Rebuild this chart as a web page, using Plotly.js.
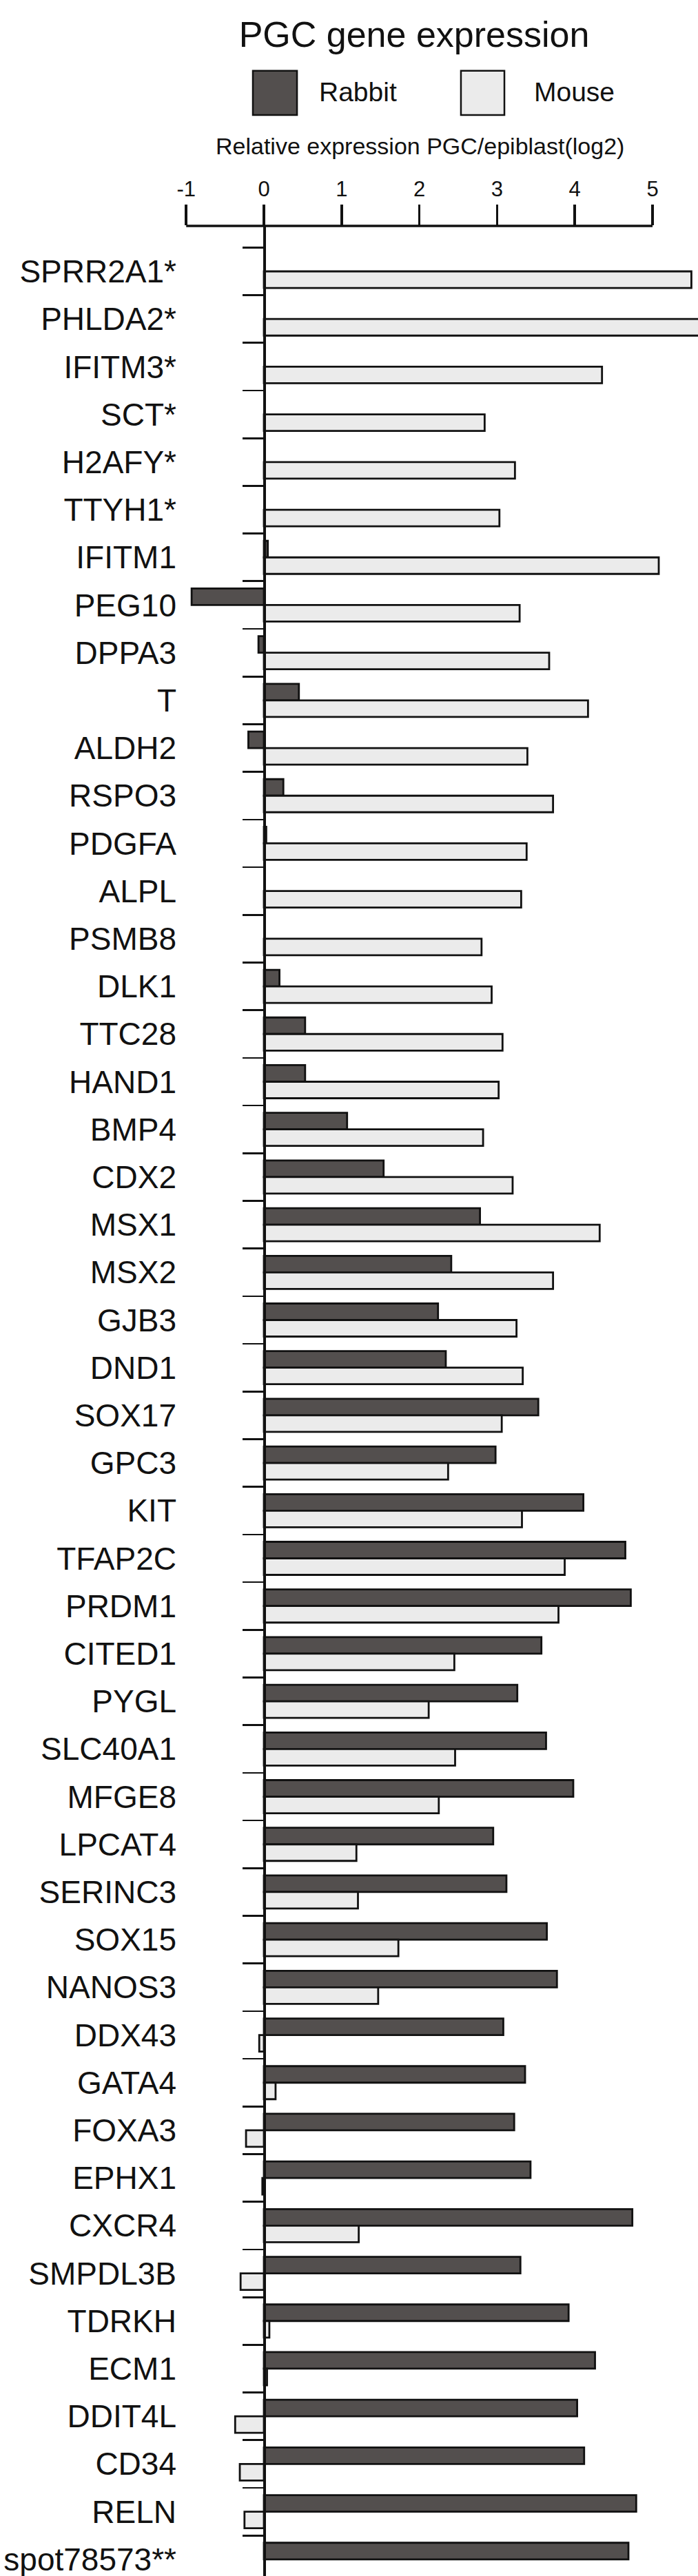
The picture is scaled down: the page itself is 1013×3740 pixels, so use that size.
<!DOCTYPE html>
<html>
<head>
<meta charset="utf-8">
<script src="https://cdn.plot.ly/plotly-3.0.1.min.js"></script>
<style>
  body { margin: 0; background: #fff; }
  #plot-1 { width: 1013px; height: 3740px; }
</style>
</head>
<body>
<div id="plot-1"></div>
<script>
// gene list, top to bottom
var genes = ['SPRR2A1*', 'PHLDA2*', 'IFITM3*', 'SCT*', 'H2AFY*', 'TTYH1*', 'IFITM1', 'PEG10',
  'DPPA3', 'T', 'ALDH2', 'RSPO3', 'PDGFA', 'ALPL', 'PSMB8', 'DLK1', 'TTC28', 'HAND1', 'BMP4',
  'CDX2', 'MSX1', 'MSX2', 'GJB3', 'DND1', 'SOX17', 'GPC3', 'KIT', 'TFAP2C', 'PRDM1', 'CITED1',
  'PYGL', 'SLC40A1', 'MFGE8', 'LPCAT4', 'SERINC3', 'SOX15', 'NANOS3', 'DDX43', 'GATA4', 'FOXA3',
  'EPHX1', 'CXCR4', 'SMPDL3B', 'TDRKH', 'ECM1', 'DDIT4L', 'CD34', 'RELN', 'spot78573**'];

// log2 PGC/epiblast
var rabbit = [null, null, null, null, null, null, 0.05, -0.93,
  -0.07, 0.45, -0.20, 0.25, 0.03, null, null, 0.20, 0.53, 0.53, 1.07,
  1.54, 2.78, 2.41, 2.24, 2.34, 3.53, 2.98, 4.11, 4.65, 4.72, 3.57,
  3.26, 3.63, 3.98, 2.95, 3.12, 3.64, 3.77, 3.08, 3.36, 3.22,
  3.43, 4.74, 3.30, 3.92, 4.26, 4.03, 4.12, 4.79, 4.69];

var mouse = [5.50, 5.62, 4.35, 2.84, 3.23, 3.03, 5.08, 3.29,
  3.67, 4.17, 3.39, 3.72, 3.38, 3.31, 2.80, 2.93, 3.07, 3.02, 2.82,
  3.20, 4.32, 3.72, 3.25, 3.33, 3.06, 2.37, 3.32, 3.87, 3.79, 2.45,
  2.12, 2.46, 2.25, 1.19, 1.21, 1.73, 1.47, -0.06, 0.15, -0.23,
  -0.02, 1.22, -0.30, 0.07, 0.04, -0.37, -0.31, -0.25, null];

var xTicks = [-1, 0, 1, 2, 3, 4, 5];

var rabbitColor = '#534f4e';
var mouseColor = '#ebebeb';

var trace1 = {
  type: 'bar', orientation: 'h', name: 'Rabbit',
  x: rabbit, y: genes,
  marker: { color: rabbitColor, line: { color: '#111', width: 2.8 } }
};
var trace2 = {
  type: 'bar', orientation: 'h', name: 'Mouse',
  x: mouse, y: genes,
  marker: { color: mouseColor, line: { color: '#111', width: 2.8 } }
};

var lab = { family: 'Liberation Sans, Arial, sans-serif', color: '#111' };
function f(size) { return Object.assign({ size: size }, lab); }

var yRange = [48.35, -0.954];

var layout = {
  width: 1013, height: 3740,
  margin: { l: 256, r: 0, t: 328, b: 0 },
  paper_bgcolor: '#fff', plot_bgcolor: '#fff',
  showlegend: false,
  barmode: 'group', bargap: 0.306, bargroupgap: 0,
  title: {
    text: 'PGC gene expression', font: f(52),
    xref: 'container', yref: 'container',
    x: 601 / 1013, xanchor: 'center', y: 1 - 50 / 3740, yanchor: 'middle'
  },
  xaxis: {
    side: 'top', range: [-1.126, 5.585],
    tickvals: xTicks, ticktext: xTicks.map(String),
    ticks: 'outside', ticklen: 30, tickwidth: 3.5, tickcolor: '#111',
    tickfont: f(31),
    showline: false, showgrid: false, zeroline: false
  },
  // axis at x = 0: line and ticks only
  yaxis: {
    type: 'category', range: yRange,
    anchor: 'free', position: 0.16777,
    tickson: 'boundaries', ticks: 'outside', ticklen: 30, tickwidth: 2.7, tickcolor: '#111',
    showticklabels: false,
    showline: true, linewidth: 3.5, linecolor: '#111',
    showgrid: false, zeroline: false
  },
  // gene names, set further left
  yaxis2: {
    overlaying: 'y', anchor: 'free', position: 0, side: 'left',
    range: yRange,
    tickvals: genes.map(function (g, i) { return i; }), ticktext: genes,
    ticks: '', tickfont: f(46), ticklabeloverflow: 'allow',
    showline: false, showgrid: false, zeroline: false
  },
  shapes: [
    // top axis line from -1 to 5
    { type: 'line', xref: 'x', yref: 'paper', x0: -1, x1: 5, y0: 1, y1: 1,
      line: { color: '#111', width: 3.5 } },
    // legend swatches
    { type: 'rect', xref: 'x', yref: 'paper', x0: -0.142, x1: 0.426, y0: 1.0472, y1: 1.0660,
      fillcolor: rabbitColor, line: { color: '#111', width: 2.5 } },
    { type: 'rect', xref: 'x', yref: 'paper', x0: 2.535, x1: 3.094, y0: 1.0472, y1: 1.0660,
      fillcolor: mouseColor, line: { color: '#111', width: 2.5 } }
  ],
  annotations: [
    { text: 'Rabbit', xref: 'x', yref: 'paper', x: 0.691, y: 1.0569,
      xanchor: 'left', yanchor: 'middle', showarrow: false, font: f(39) },
    { text: 'Mouse', xref: 'x', yref: 'paper', x: 3.457, y: 1.0569,
      xanchor: 'left', yanchor: 'middle', showarrow: false, font: f(39) },
    { text: 'Relative expression PGC/epiblast(log2)', xref: 'x', yref: 'paper',
      x: 2.004, y: 1.0339, xanchor: 'center', yanchor: 'middle', showarrow: false, font: f(34) }
  ]
};

// empty trace so the label axis gets drawn
var labelTrace = { type: 'scatter', mode: 'none', x: [], y: [], yaxis: 'y2', hoverinfo: 'skip' };

Plotly.newPlot('plot-1', [trace1, trace2, labelTrace], layout, { staticPlot: true });
</script>
</body>
</html>
